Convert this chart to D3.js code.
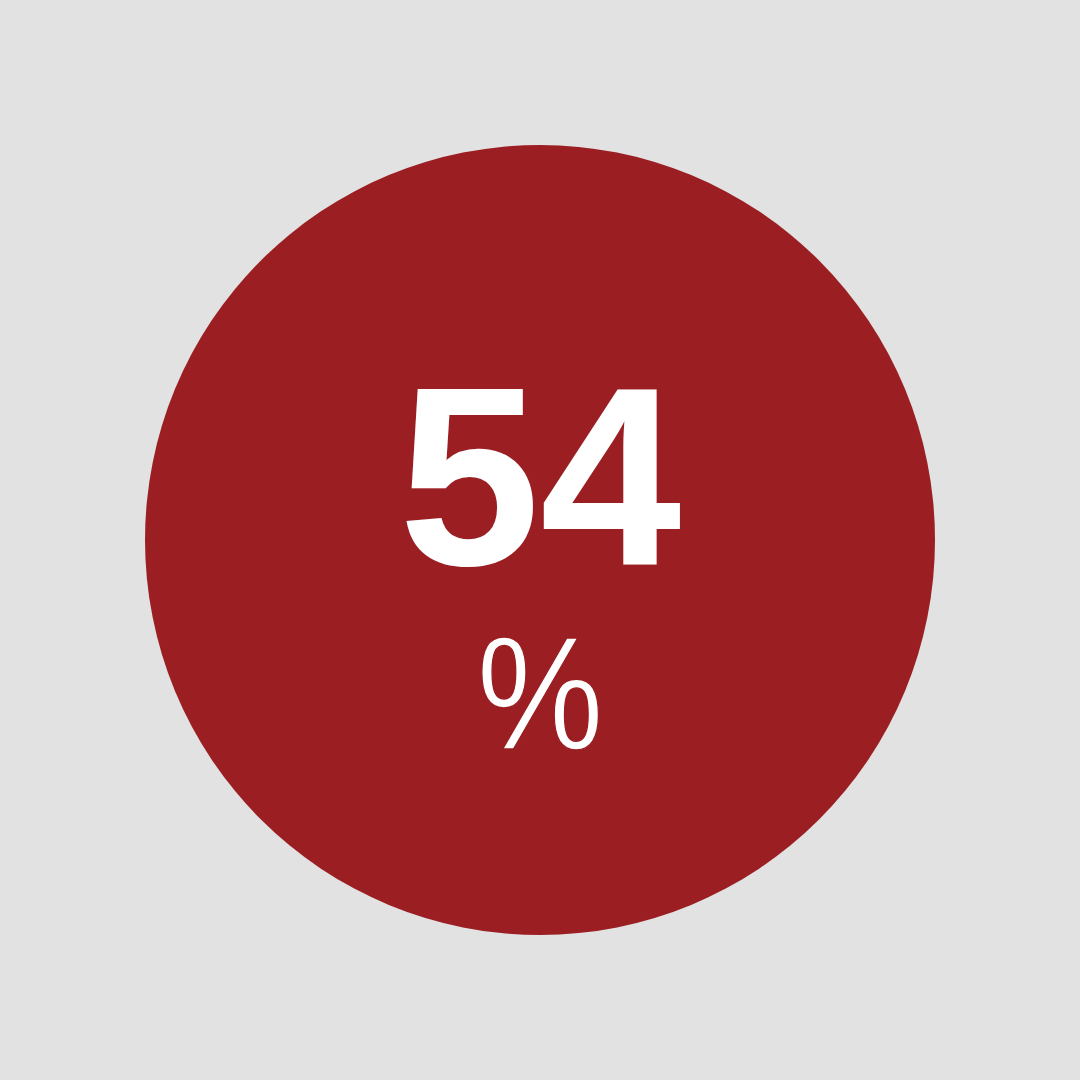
<!DOCTYPE html>
<html>
<head>
<meta charset="utf-8">
<script src="https://cdn.jsdelivr.net/npm/d3@7"></script>
<style>
  html, body { margin: 0; padding: 0; background: #e2e2e2; }
</style>
</head>
<body>
<div id="canvas"></div>
<script>
// the one figure shown in the badge
var values = [54];
var units = ["%"];

var width = 1080, height = 1080;

var svg = d3.select("#canvas")
            .append("svg")
            .attr("width", width)
            .attr("height", height);

svg.append("rect")
   .attr("width", width)
   .attr("height", height)
   .attr("fill", "#e2e2e2");

// badge
var badge = svg.selectAll("g.badge")
               .data(values)
               .enter()
               .append("g")
               .attr("class", "badge")
               .attr("transform", "translate(540,540)");

badge.append("circle")
     .attr("r", 395)
     .attr("fill", "#9b1e23");

// big number
badge.append("text")
     .attr("x", 0)
     .attr("y", 25)
     .attr("text-anchor", "middle")
     .attr("fill", "#ffffff")
     .style("font-family", "'Liberation Sans', Arial, sans-serif")
     .style("font-weight", "bold")
     .style("font-size", "254px")
     .text(function(d){ return d; });

// unit below, narrowed and thinned a bit with a stroke in the badge colour
badge.append("text")
     .attr("transform", "translate(0,209) scale(0.88,1)")
     .attr("text-anchor", "middle")
     .attr("fill", "#ffffff")
     .attr("stroke", "#9b1e23")
     .attr("stroke-width", 1.5)
     .style("font-family", "'Liberation Sans', Arial, sans-serif")
     .style("font-weight", "normal")
     .style("font-size", "162px")
     .text(function(d, i){ return units[i]; });
</script>
</body>
</html>
